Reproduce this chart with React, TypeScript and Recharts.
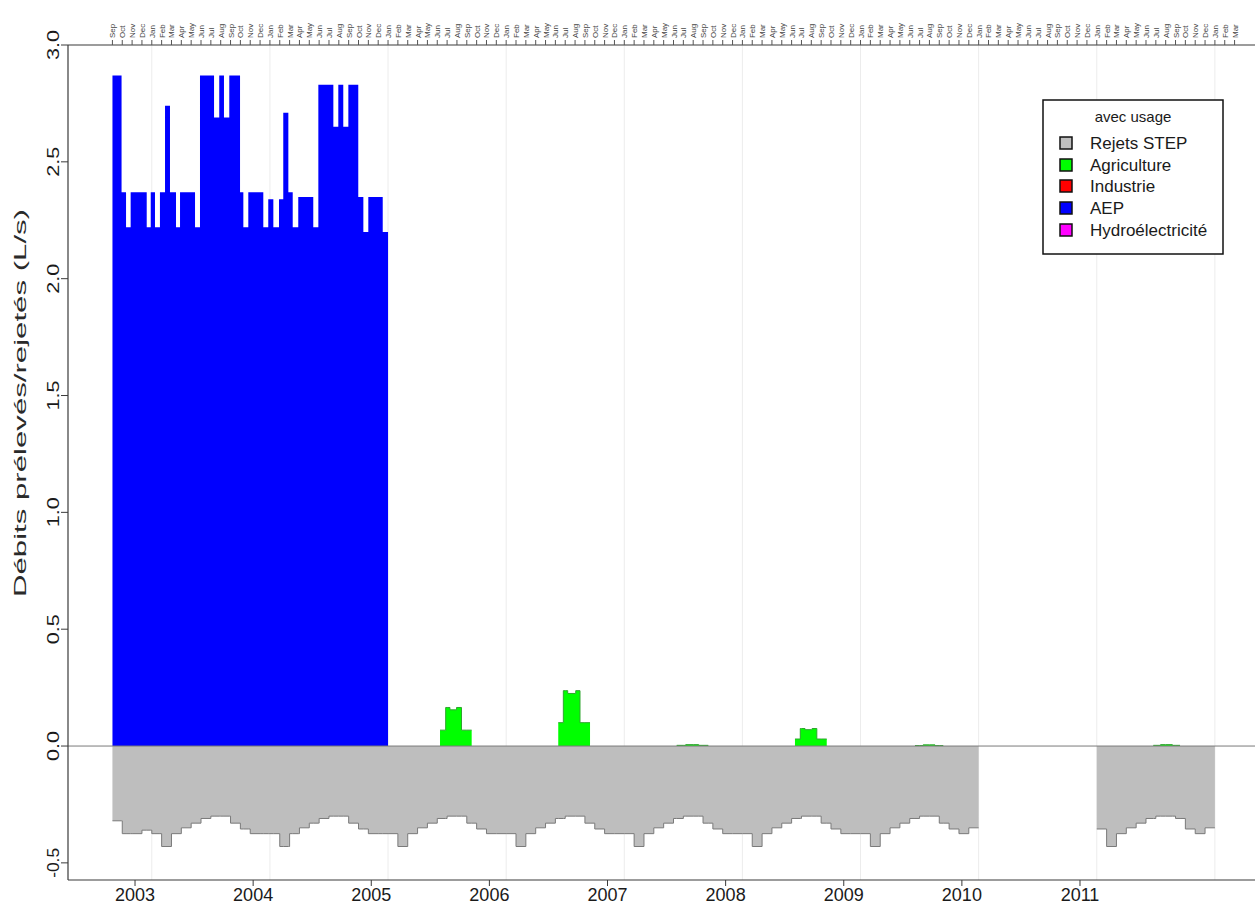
import { Area, CartesianGrid, ComposedChart, ReferenceLine, XAxis, YAxis } from "recharts";

document.body.style.margin = "0";

const FONT = "'Liberation Sans', Arial, Helvetica, sans-serif";

// AEP withdrawals, step breakpoints [decimal year, L/s]; null closes the series
const aepSteps: [number, number | null][] = [
  [2002.667, 2.87], [2002.744, 2.37], [2002.782, 2.22], [2002.821, 2.37],
  [2002.957, 2.22], [2002.991, 2.37], [2003.027, 2.22], [2003.069, 2.37],
  [2003.112, 2.74], [2003.154, 2.37], [2003.205, 2.22], [2003.239, 2.37],
  [2003.366, 2.22], [2003.408, 2.87], [2003.527, 2.69], [2003.571, 2.87],
  [2003.611, 2.69], [2003.656, 2.87], [2003.747, 2.37], [2003.775, 2.22],
  [2003.817, 2.37], [2003.944, 2.22], [2003.986, 2.34], [2004.029, 2.22],
  [2004.077, 2.34], [2004.113, 2.71], [2004.156, 2.37], [2004.193, 2.22],
  [2004.240, 2.35], [2004.367, 2.22], [2004.410, 2.83], [2004.537, 2.65],
  [2004.579, 2.83], [2004.621, 2.65], [2004.664, 2.83], [2004.748, 2.35],
  [2004.791, 2.20], [2004.833, 2.35], [2004.955, 2.20], [2005.0, null],
];

// Agriculture withdrawals (summer bumps)
const agriSteps: [number, number | null][] = [
  [2005.440, 0.068], [2005.488, 0.165], [2005.524, 0.155], [2005.580, 0.165],
  [2005.622, 0.068], [2005.708, null],
  [2006.441, 0.100], [2006.484, 0.237], [2006.521, 0.225], [2006.589, 0.237],
  [2006.625, 0.100], [2006.710, null],
  [2007.444, 0.003], [2007.520, 0.006], [2007.630, 0.003], [2007.711, null],
  [2008.445, 0.030], [2008.490, 0.075], [2008.530, 0.070], [2008.590, 0.075],
  [2008.630, 0.030], [2008.714, null],
  [2009.461, 0.002], [2009.530, 0.005], [2009.630, 0.002], [2009.700, null],
  [2011.479, 0.003], [2011.540, 0.006], [2011.640, 0.003], [2011.705, null],
];

// Rejets STEP, monthly values (Jan..Dec), negative = discharged
const rejets2002 = [null, null, null, null, null, null, null, null, -0.32, -0.375, -0.375, -0.36];
const rejets2003 = [-0.375, -0.43, -0.375, -0.35, -0.33, -0.31, -0.3, -0.3, -0.33, -0.355, -0.375, -0.375];
const rejets2004 = [-0.375, -0.43, -0.375, -0.35, -0.33, -0.31, -0.3, -0.3, -0.33, -0.355, -0.375, -0.375];
const rejets2005 = [-0.375, -0.43, -0.375, -0.35, -0.33, -0.31, -0.3, -0.3, -0.33, -0.355, -0.375, -0.375];
const rejets2006 = [-0.375, -0.43, -0.375, -0.35, -0.33, -0.31, -0.3, -0.3, -0.33, -0.355, -0.375, -0.375];
const rejets2007 = [-0.375, -0.43, -0.375, -0.35, -0.33, -0.31, -0.3, -0.3, -0.33, -0.355, -0.375, -0.375];
const rejets2008 = [-0.375, -0.43, -0.375, -0.35, -0.33, -0.31, -0.3, -0.3, -0.33, -0.355, -0.375, -0.375];
const rejets2009 = [-0.375, -0.43, -0.375, -0.35, -0.33, -0.31, -0.3, -0.3, -0.33, -0.355, -0.375, -0.35];
const rejets2011 = [-0.355, -0.43, -0.375, -0.35, -0.33, -0.31, -0.3, -0.3, -0.31, -0.355, -0.375, -0.35];
const rejetsYears = [2002, 2003, 2004, 2005, 2006, 2007, 2008, 2009, 2011];
const rejetsRows = [rejets2002, rejets2003, rejets2004, rejets2005, rejets2006, rejets2007, rejets2008, rejets2009, rejets2011];

const yTicks = [-0.5, 0, 0.5, 1, 1.5, 2, 2.5, 3];
const yearLabels = ["2003", "2004", "2005", "2006", "2007", "2008", "2009", "2010", "2011"];
// R put the year labels ~7 weeks before 1 January
const yearLabelPos = [2002.858, 2003.858, 2004.858, 2005.858, 2006.858, 2007.858, 2008.858, 2009.858, 2010.858];
const gridYears = [2003, 2004, 2005, 2006, 2007, 2008, 2009, 2010, 2011, 2012];
const monthNames = ["Jan", "Feb", "Mar", "Apr", "May", "Jun", "Jul", "Aug", "Sep", "Oct", "Nov", "Dec"];

const legendNames = ["Rejets STEP", "Agriculture", "Industrie", "AEP", "Hydroélectricité"];
const legendColors = ["#bebebe", "#00ff00", "#ff0000", "#0000ff", "#ff00ff"];

const X_DOMAIN: [number, number] = [2002.2906, 2012.4496];
const Y_DOMAIN: [number, number] = [-0.5733, 3];

// monthly rows -> step breakpoints
function monthlySteps(years: number[], rows: (number | null)[][]) {
  const out: [number, number | null][] = [];
  let open: number | null = null;
  years.forEach((yr, i) => {
    rows[i].forEach((v, m) => {
      const x = yr + m / 12;
      if (v == null) {
        if (open != null) { out.push([open, null]); open = null; }
        return;
      }
      if (open != null && Math.abs(open - x) > 1e-6) out.push([open, null]);
      out.push([x, v]);
      open = x + 1 / 12;
    });
  });
  if (open != null) out.push([open, null]);
  return out;
}

const rejetsSteps = monthlySteps(rejetsYears, rejetsRows);

function valueAt(steps: [number, number | null][], x: number) {
  let idx = -1;
  for (let i = 0; i < steps.length; i++) {
    if (steps[i][0] <= x + 1e-9) idx = i;
    else break;
  }
  if (idx < 0) return null;
  const [bx, v] = steps[idx];
  if (v == null && Math.abs(bx - x) < 1e-9 && idx > 0) return steps[idx - 1][1];
  return v;
}

const EPS = 1e-4;
const allSteps = [aepSteps, agriSteps, rejetsSteps];
const xKeys = new Map<string, number>();
allSteps.forEach((s) =>
  s.forEach(([x, v]) => {
    xKeys.set(x.toFixed(7), x);
    if (v == null) xKeys.set((x + EPS).toFixed(7), x + EPS);
  })
);
const chartData = Array.from(xKeys.values())
  .sort((a, b) => a - b)
  .map((t) => ({
    t,
    aep: valueAt(aepSteps, t),
    agri: valueAt(agriSteps, t),
    rejets: valueAt(rejetsSteps, t),
  }));

const monthTicks: number[] = [];
for (let yr = 2002; yr <= 2012; yr++) {
  for (let m = 0; m < 12; m++) {
    const t = yr + m / 12;
    if (t > 2002.66 && t < 2012.2) monthTicks.push(t);
  }
}

function monthLabel(t: number) {
  const m = Math.round((t - Math.floor(t + 1e-6)) * 12) % 12;
  return monthNames[m];
}

// year lines behind the areas, placed with the x-axis scale
function yearGridLines({ xAxis, offset }: any) {
  if (xAxis && typeof xAxis.scale === "function") {
    return gridYears.map((yr) => xAxis.scale(yr));
  }
  const w = offset.width / (X_DOMAIN[1] - X_DOMAIN[0]);
  return gridYears.map((yr) => offset.left + (yr - X_DOMAIN[0]) * w);
}

function MonthTick({ x, y, payload }: any) {
  return (
    <text
      x={x + 3}
      y={y}
      transform={`rotate(-90 ${x + 3} ${y})`}
      textAnchor="start"
      fontSize={8}
      fontFamily={FONT}
      fill="#444"
    >
      {monthLabel(payload.value)}
    </text>
  );
}

function YearTick({ x, y, index }: any) {
  return (
    <text x={x} y={y} dy="0.71em" textAnchor="middle" fontSize={18} fontFamily={FONT} fill="#1a1a1a">
      {yearLabels[index]}
    </text>
  );
}

function YTick({ x, y, payload }: any) {
  return (
    <text
      x={x}
      y={y}
      transform={`rotate(-90 ${x} ${y})`}
      textAnchor="middle"
      fontSize={16.5}
      fontFamily={FONT}
      fill="#1a1a1a"
      textLength={30}
      lengthAdjust="spacingAndGlyphs"
    >
      {Number(payload.value).toFixed(1)}
    </text>
  );
}

function Overlay() {
  const rowY = [143, 165, 186, 208, 230];
  return (
    <svg
      width={1255}
      height={904}
      style={{ position: "absolute", left: 0, top: 0, pointerEvents: "none" }}
    >
      <text
        x={26}
        y={403}
        transform="rotate(-90 26 403)"
        textAnchor="middle"
        fontSize={16}
        fontFamily={FONT}
        fill="#2a2a2a"
        textLength={388}
        lengthAdjust="spacingAndGlyphs"
      >
        Débits prélevés/rejetés (L/s)
      </text>
      <rect x={1043} y={100} width={180} height={154} fill="#fff" stroke="#111" strokeWidth={1.5} />
      <text x={1133} y={122} textAnchor="middle" fontSize={15} fontFamily={FONT} fill="#1a1a1a">
        avec usage
      </text>
      {legendNames.map((name, i) => (
        <g key={name}>
          <rect x={1060} y={rowY[i] - 6} width={12} height={12} fill={legendColors[i]} stroke="#111" strokeWidth={1.5} />
          <text x={1090} y={rowY[i] + 6} fontSize={17} fontFamily={FONT} fill="#1a1a1a">
            {name}
          </text>
        </g>
      ))}
    </svg>
  );
}

export default function App() {
  return (
    <div style={{ position: "relative", width: 1255, height: 904, overflow: "hidden", background: "#fff" }}>
      <ComposedChart
        width={1270}
        height={904}
        data={chartData}
        margin={{ top: 0, right: 2, bottom: 0, left: 0 }}
      >
        <CartesianGrid
          horizontal={false}
          stroke="#ececec"
          verticalCoordinatesGenerator={yearGridLines}
        />
        <XAxis
          dataKey="t"
          type="number"
          domain={X_DOMAIN}
          allowDataOverflow
          ticks={yearLabelPos}
          interval={0}
          tick={<YearTick />}
          tickSize={6}
          tickMargin={2}
          height={24}
          axisLine={{ stroke: "#3a3a3a", strokeWidth: 1.2 }}
          tickLine={{ stroke: "#3a3a3a" }}
        />
        <XAxis
          xAxisId="top"
          orientation="top"
          dataKey="t"
          type="number"
          domain={X_DOMAIN}
          allowDataOverflow
          ticks={monthTicks}
          interval={0}
          tick={<MonthTick />}
          tickSize={5}
          tickMargin={2}
          height={45}
          axisLine={{ stroke: "#3a3a3a", strokeWidth: 1.2 }}
          tickLine={{ stroke: "#555" }}
        />
        <YAxis
          type="number"
          domain={Y_DOMAIN}
          allowDataOverflow
          ticks={yTicks}
          interval={0}
          width={68}
          tick={<YTick />}
          tickSize={7}
          tickMargin={2}
          axisLine={{ stroke: "#3a3a3a", strokeWidth: 1.2 }}
          tickLine={{ stroke: "#3a3a3a" }}
        />
        <Area
          dataKey="rejets"
          type="stepAfter"
          baseValue={0}
          fill="#bebebe"
          fillOpacity={1}
          stroke="#7a7a7a"
          strokeWidth={1}
          dot={false}
          activeDot={false}
          isAnimationActive={false}
        />
        <Area
          dataKey="aep"
          type="stepAfter"
          baseValue={0}
          fill="#0000ff"
          fillOpacity={1}
          stroke="none"
          dot={false}
          activeDot={false}
          isAnimationActive={false}
        />
        <Area
          dataKey="agri"
          type="stepAfter"
          baseValue={0}
          fill="#00ff00"
          fillOpacity={1}
          stroke="#2fa52f"
          strokeWidth={1}
          dot={false}
          activeDot={false}
          isAnimationActive={false}
        />
        <ReferenceLine y={0} stroke="#7a7a7a" strokeWidth={1} />
      </ComposedChart>
      <Overlay />
    </div>
  );
}
